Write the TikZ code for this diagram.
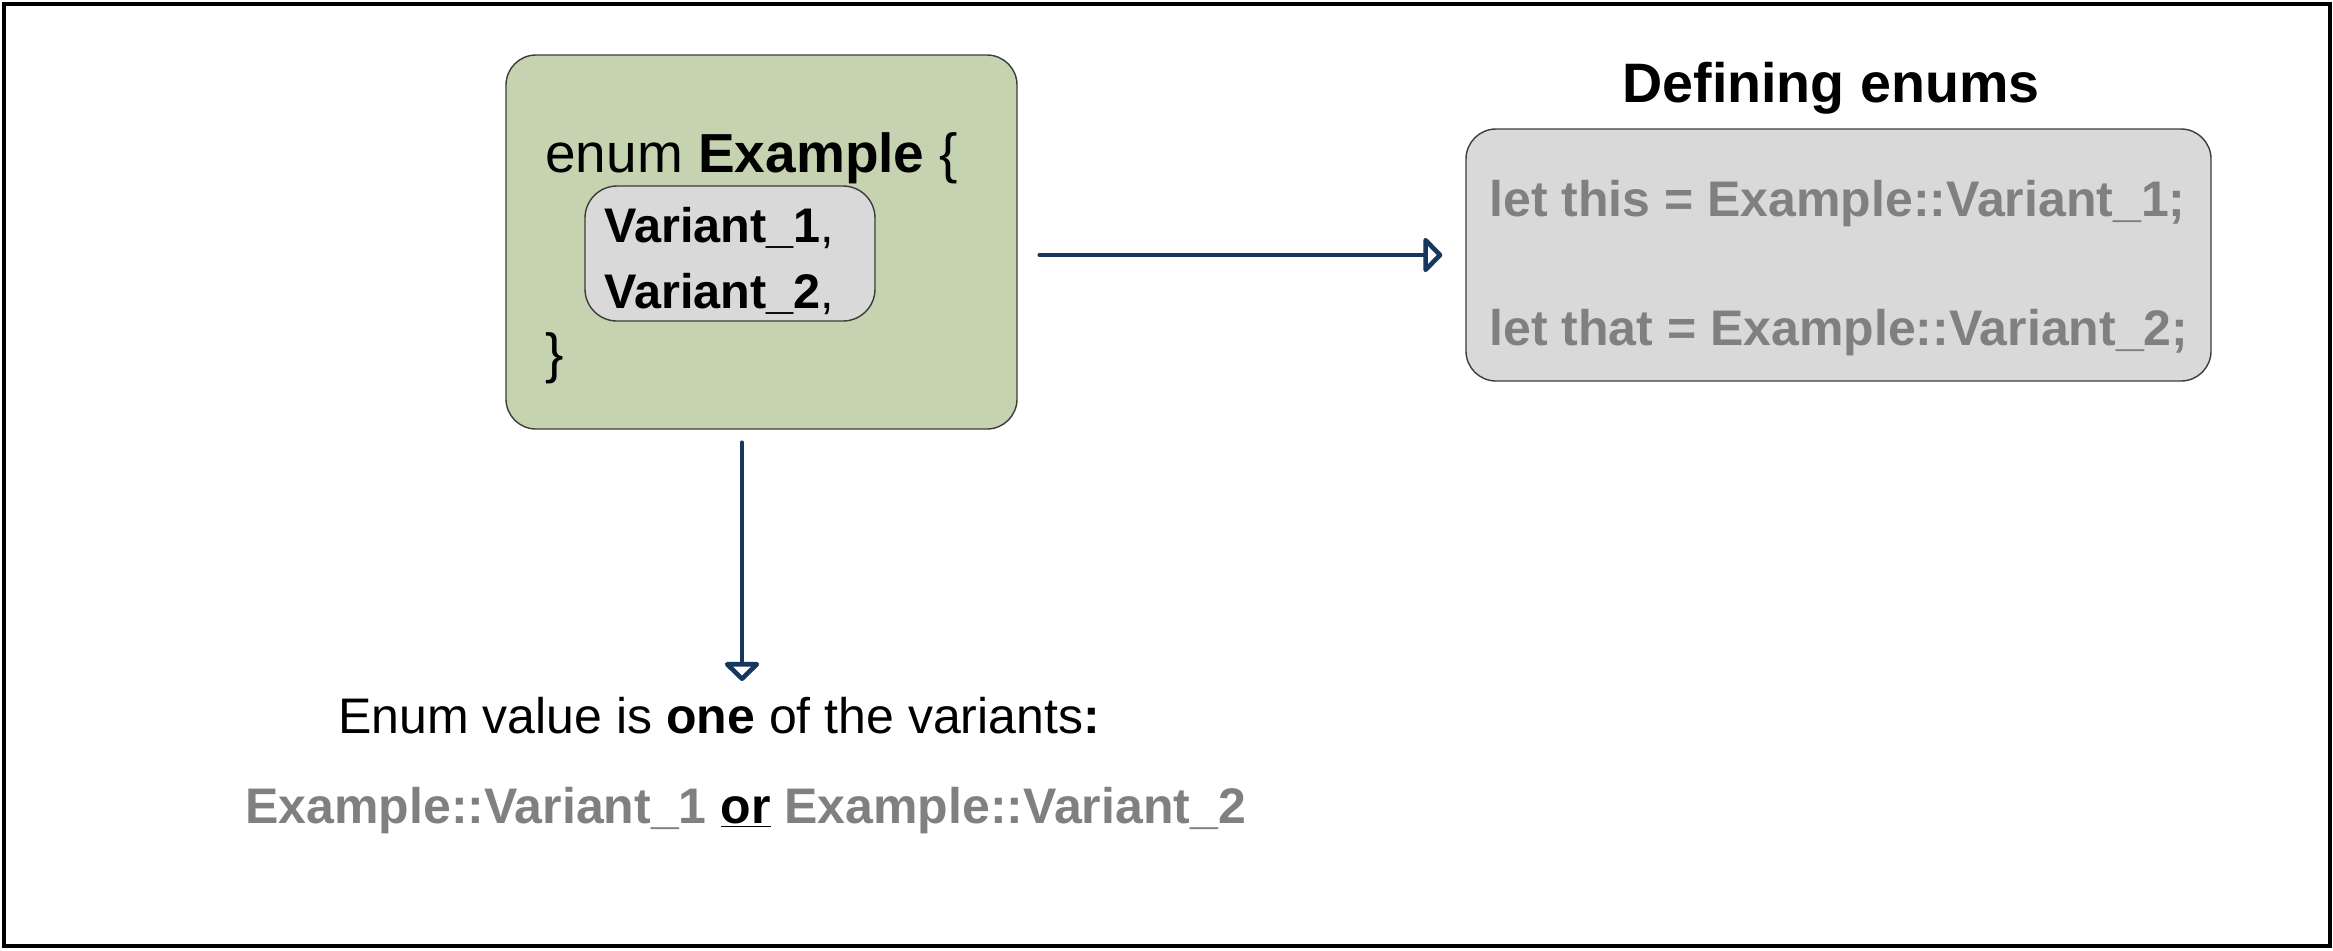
\documentclass[tikz,border=0pt]{standalone}
\usepackage{fontspec}
\setmainfont{Liberation Sans}
\usetikzlibrary{arrows.meta}
\definecolor{boxgreen}{RGB}{197,211,176}
\definecolor{boxgray}{RGB}{217,217,217}
\definecolor{txtgray}{RGB}{128,128,128}
\definecolor{arrowblue}{RGB}{23,55,94}
\definecolor{edgegray}{RGB}{60,60,60}
\tikzset{
  greenbox/.style={draw=edgegray, line width=0.7pt, fill=boxgreen, rounded corners=15pt, inner sep=0pt},
  graybox/.style={draw=edgegray, line width=0.7pt, fill=boxgray, rounded corners=16pt, inner sep=0pt},
  txt/.style={anchor=base west, inner sep=0pt, font=\fontsize{25pt}{30pt}\selectfont},
  flowarrow/.style={draw=arrowblue, line width=2.3pt, line cap=round,
     -{Triangle[open, length=10pt, width=20pt, line join=round]}},
}
\begin{document}
\begin{tikzpicture}[x=0.5pt, y=-0.5pt]
\useasboundingbox (0,0) rectangle (2333,950);
\draw[line width=2pt] (4,4) rectangle (2330,946);

% left green box
\node[greenbox, minimum width=255.5pt, minimum height=187pt] (enumbox) at (761.5,242) {};
\node[graybox, minimum width=145pt, minimum height=67.5pt] (variants) at (730,253.5) {};
\node[txt, font=\fontsize{27.5pt}{30pt}\selectfont] (enumline) at (545,172) {enum \textbf{Example} \{};
\node[txt, font=\fontsize{24.3pt}{30pt}\selectfont] (v1) at (604,242) {\textbf{Variant\_1},};
\node[txt, font=\fontsize{24.3pt}{30pt}\selectfont] (v2) at (604,308) {\textbf{Variant\_2},};
\node[txt, font=\fontsize{27.5pt}{30pt}\selectfont] (closebrace) at (545,372) {\}};

% right side
\node[anchor=base, inner sep=0pt, font=\fontsize{27.8pt}{30pt}\selectfont\bfseries] (title) at (1831,102) {Defining enums};
\node[graybox, rounded corners=15pt, minimum width=372.5pt, minimum height=126pt] (usebox) at (1838.5,255) {};
\node[txt, font=\fontsize{25pt}{30pt}\selectfont\bfseries, text=txtgray] (letthis) at (1489,216) {let this = Example::Variant\_1;};
\node[txt, font=\fontsize{25pt}{30pt}\selectfont\bfseries, text=txtgray] (letthat) at (1489,345) {let that = Example::Variant\_2;};

% bottom text
\node[txt] (oneof) at (338,733) {Enum value is \textbf{one} of the variants\textbf{:}};
\node[txt, font=\fontsize{25pt}{30pt}\selectfont\bfseries, text=txtgray] (orline) at (245,823) {Example::Variant\_1 \textcolor{black}{\underline{or}} Example::Variant\_2};

% arrows
\coordinate (downtip) at (742,681);
\draw[flowarrow, shorten <=6.5pt] (enumbox.south -| downtip) -- (downtip);
\draw[flowarrow, shorten <=11pt, shorten >=11.5pt] (enumbox.east |- usebox.west) -- (usebox.west);
\end{tikzpicture}
\end{document}
